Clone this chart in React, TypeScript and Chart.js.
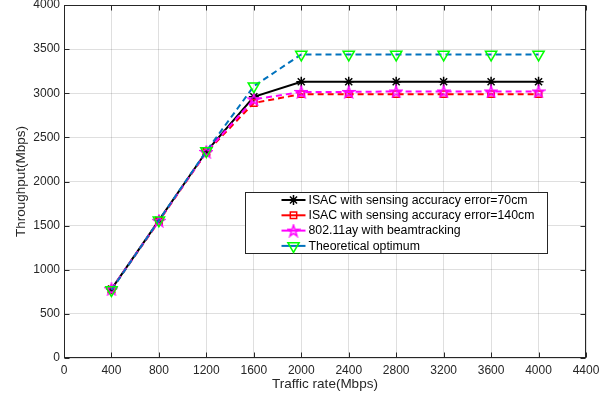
import React, { useEffect, useRef } from 'react';
import { Chart, registerables } from 'chart.js';
import { drawPoint } from 'chart.js/helpers';

Chart.register(...registerables);

const trafficRates = [400, 800, 1200, 1600, 2000, 2400, 2800, 3200, 3600, 4000];
const isac70 = [780, 1560, 2340, 2960, 3130, 3130, 3130, 3130, 3130, 3130];
const isac140 = [775, 1550, 2330, 2890, 2990, 2990, 2990, 2990, 2990, 2990];
const ay80211 = [780, 1555, 2335, 2930, 3015, 3015, 3020, 3020, 3020, 3020];
const theoretical = [770, 1560, 2345, 3080, 3440, 3440, 3440, 3440, 3440, 3440];

const seriesLabels = [
  'ISAC with sensing accuracy error=70cm',
  'ISAC with sensing accuracy error=140cm',
  '802.11ay with beamtracking',
  'Theoretical optimum',
];

const xTitle = 'Traffic rate(Mbps)';
const yTitle = 'Throughput(Mbps)';

const FONT = "'Liberation Sans', Arial, Helvetica, sans-serif";
const AXIS_COLOR = '#262626';

function makePentagram(color: string): HTMLCanvasElement {
  const size = 14;
  const c = document.createElement('canvas');
  c.width = size;
  c.height = size;
  const ctx = c.getContext('2d')!;
  const R = 6;
  const r = R * 0.382;
  const cx = size / 2;
  const cy = size / 2 + 0.5;
  ctx.beginPath();
  for (let i = 0; i < 10; i++) {
    const rad = i % 2 === 0 ? R : r;
    const a = -Math.PI / 2 + (i * Math.PI) / 5;
    const x = cx + rad * Math.cos(a);
    const y = cy + rad * Math.sin(a);
    if (i === 0) ctx.moveTo(x, y);
    else ctx.lineTo(x, y);
  }
  ctx.closePath();
  ctx.strokeStyle = color;
  ctx.lineWidth = 1.5;
  ctx.lineJoin = 'miter';
  ctx.stroke();
  return c;
}

const toPoints = (ys: number[]) => trafficRates.map((x, i) => ({ x, y: ys[i] }));

const boxPlugin = {
  id: 'matlabBox',
  afterDraw(chart: any) {
    const { ctx, chartArea } = chart;
    const { left, right, top, bottom } = chartArea;
    ctx.save();
    ctx.strokeStyle = AXIS_COLOR;
    ctx.lineWidth = 1;
    ctx.setLineDash([]);
    const L = Math.round(left) + 0.5;
    const R = Math.round(right) - 0.5;
    const T = Math.round(top) + 0.5;
    const B = Math.round(bottom) - 0.5;
    ctx.strokeRect(L, T, R - L, B - T);
    const tl = 5;
    const xs = chart.scales.x;
    const ys = chart.scales.y;
    ctx.beginPath();
    xs.ticks.forEach((t: any) => {
      const px = Math.round(xs.getPixelForValue(t.value)) + 0.5;
      ctx.moveTo(px, B);
      ctx.lineTo(px, B - tl);
      ctx.moveTo(px, T);
      ctx.lineTo(px, T + tl);
    });
    ys.ticks.forEach((t: any) => {
      const py = Math.round(ys.getPixelForValue(t.value)) + 0.5;
      ctx.moveTo(L, py);
      ctx.lineTo(L + tl, py);
      ctx.moveTo(R, py);
      ctx.lineTo(R - tl, py);
    });
    ctx.stroke();

    // legend
    const bx = Math.round(left + 181) + 0.5;
    const by = Math.round(top + 187) + 0.5;
    const bw = 302;
    const bh = 61;
    ctx.fillStyle = '#ffffff';
    ctx.fillRect(bx, by, bw, bh);
    ctx.strokeStyle = AXIS_COLOR;
    ctx.strokeRect(bx, by, bw, bh);
    ctx.font = `12.3px ${FONT}`;
    ctx.textBaseline = 'middle';
    ctx.textAlign = 'left';
    chart.data.datasets.forEach((ds: any, i: number) => {
      const y = by + 7.5 + i * 15.3;
      const x0 = bx + 36;
      const x1 = bx + 60;
      ctx.save();
      ctx.strokeStyle = ds.borderColor;
      ctx.lineWidth = ds.borderWidth;
      ctx.setLineDash([]);
      ctx.beginPath();
      ctx.moveTo(x0, y);
      ctx.lineTo(x1, y);
      ctx.stroke();
      ctx.strokeStyle = ds.pointBorderColor;
      ctx.fillStyle = 'rgba(0,0,0,0)';
      ctx.lineWidth = ds.pointBorderWidth;
      drawPoint(
        ctx,
        {
          pointStyle: ds.pointStyle,
          rotation: ds.pointRotation || 0,
          radius: ds.pointRadius,
          borderWidth: ds.pointBorderWidth,
        } as any,
        (x0 + x1) / 2,
        y
      );
      ctx.restore();
      ctx.fillStyle = '#000000';
      ctx.fillText(ds.label, bx + 63, y + 0.5);
    });
    ctx.restore();
  },
};

const plainNumber = (v: any) => String(v);

export default function App() {
  const ref = useRef<HTMLCanvasElement | null>(null);

  useEffect(() => {
    const canvas = ref.current;
    if (!canvas) return;
    const pent = makePentagram('#FF00FF');
    const chart = new Chart(canvas, {
      type: 'line',
      data: {
        datasets: [
          {
            label: seriesLabels[0],
            data: toPoints(isac70),
            borderColor: '#000000',
            borderWidth: 2,
            pointStyle: 'star',
            pointRadius: 5,
            pointBorderWidth: 1.5,
            pointBorderColor: '#000000',
            pointBackgroundColor: 'rgba(0,0,0,0)',
            order: 4,
          },
          {
            label: seriesLabels[1],
            data: toPoints(isac140),
            borderColor: '#FF0000',
            borderWidth: 2,
            borderDash: [6, 4],
            pointStyle: 'rect',
            pointRadius: 4.5,
            pointBorderWidth: 1.5,
            pointBorderColor: '#FF0000',
            pointBackgroundColor: 'rgba(0,0,0,0)',
            order: 3,
          },
          {
            label: seriesLabels[2],
            data: toPoints(ay80211),
            borderColor: '#FF00FF',
            borderWidth: 2,
            borderDash: [6, 4],
            pointStyle: pent as any,
            pointRadius: 6,
            pointBorderWidth: 1.5,
            pointBorderColor: '#FF00FF',
            pointBackgroundColor: 'rgba(0,0,0,0)',
            order: 2,
          },
          {
            label: seriesLabels[3],
            data: toPoints(theoretical),
            borderColor: '#0072BD',
            borderWidth: 2,
            borderDash: [6, 4],
            pointStyle: 'triangle',
            pointRotation: 180,
            pointRadius: 6.5,
            pointBorderWidth: 1.5,
            pointBorderColor: '#00FF00',
            pointBackgroundColor: 'rgba(0,0,0,0)',
            order: 1,
          },
        ] as any,
      },
      options: {
        responsive: false,
        animation: false,
        devicePixelRatio: 1,
        layout: { autoPadding: false, padding: { top: 5, right: 26, left: 0, bottom: 0 } },
        plugins: {
          legend: { display: false },
          tooltip: { enabled: false },
        },
        elements: { line: { tension: 0 } },
        scales: {
          x: {
            type: 'linear',
            min: 0,
            max: 4400,
            afterFit: (s: any) => {
              s.height = 42;
              s.paddingLeft = 0;
              s.paddingRight = 0;
            },
            ticks: {
              stepSize: 400,
              color: AXIS_COLOR,
              font: { family: FONT, size: 12 },
              padding: 5,
              maxRotation: 0,
              autoSkip: false,
              callback: plainNumber,
            },
            grid: { color: 'rgba(38,38,38,0.15)', drawTicks: false },
            border: { display: false },
            title: {
              display: true,
              text: xTitle,
              color: AXIS_COLOR,
              font: { family: FONT, size: 13.5 },
              padding: { top: 0, bottom: 7.5 },
            },
          },
          y: {
            type: 'linear',
            min: 0,
            max: 4000,
            afterFit: (s: any) => {
              s.width = 64;
              s.paddingTop = 0;
              s.paddingBottom = 0;
            },
            ticks: {
              stepSize: 500,
              color: AXIS_COLOR,
              font: { family: FONT, size: 12 },
              padding: 4,
              callback: plainNumber,
            },
            grid: { color: 'rgba(38,38,38,0.15)', drawTicks: false },
            border: { display: false },
            title: {
              display: true,
              text: yTitle,
              color: AXIS_COLOR,
              font: { family: FONT, size: 13.5 },
              padding: { top: 13.5, bottom: 0 },
            },
          },
        },
      } as any,
      plugins: [boxPlugin],
    });
    return () => chart.destroy();
  }, []);

  return (
    <div style={{ position: 'absolute', left: 0, top: 0, width: 612, height: 400, background: '#fff' }}>
      <canvas ref={ref} width={612} height={400} style={{ width: 612, height: 400 }} />
    </div>
  );
}
